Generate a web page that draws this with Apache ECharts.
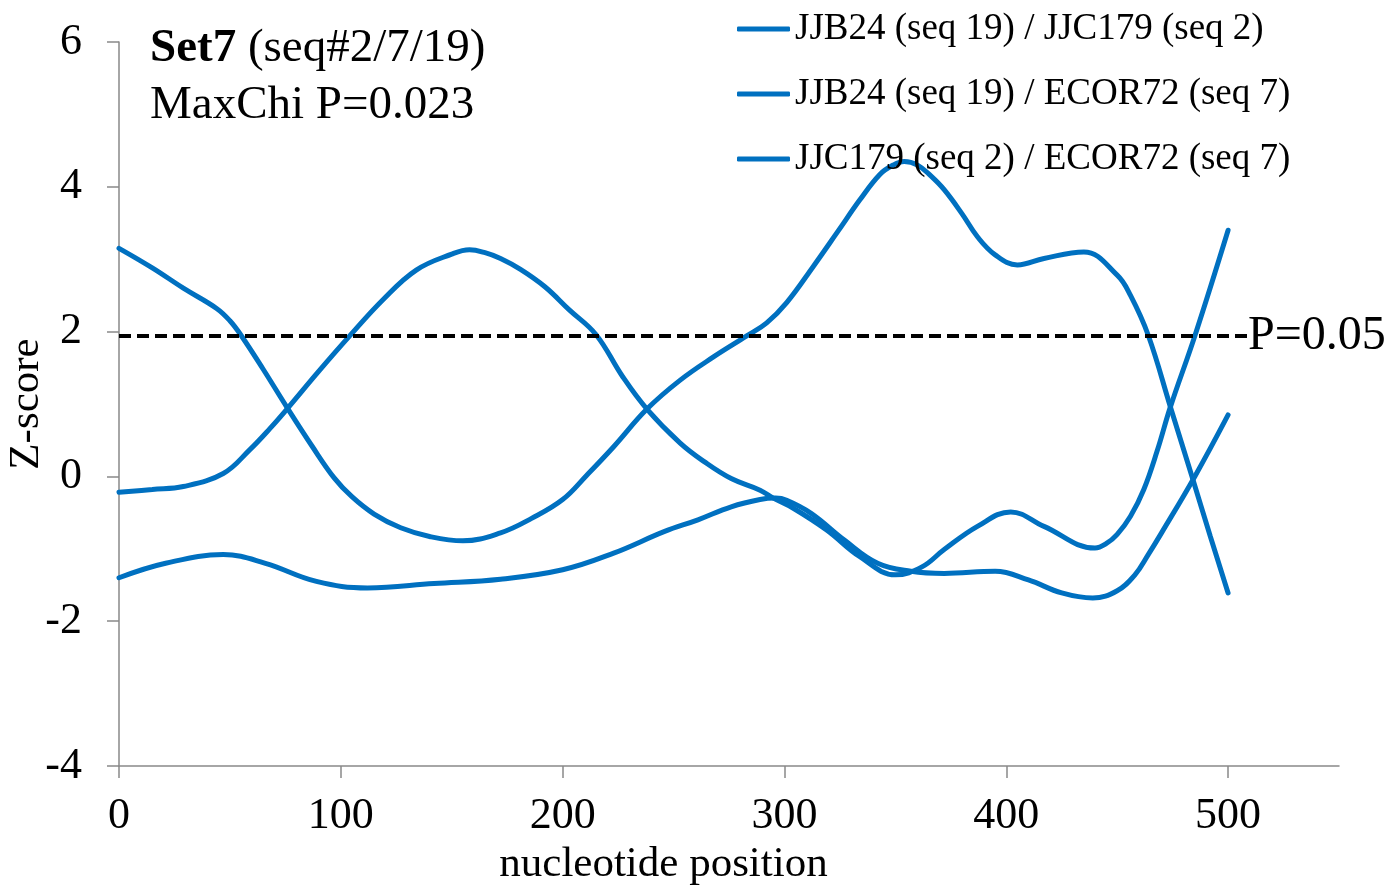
<!DOCTYPE html>
<html>
<head>
<meta charset="utf-8">
<script src="https://cdn.jsdelivr.net/npm/echarts@6/dist/echarts.min.js"></script>
<style>
html,body{margin:0;padding:0;background:#fff;}
#chart{width:1387px;height:885px;}
</style>
</head>
<body>
<div id="chart"></div>
<script>
// ---- data ----
const seriesNames = [
  'JJB24 (seq 19) / JJC179 (seq 2)',
  'JJB24 (seq 19) / ECOR72 (seq 7)',
  'JJC179 (seq 2) / ECOR72 (seq 7)'
];
const curve1X = [0, 15, 29, 44, 50, 55, 65, 76, 87, 97, 105, 115, 127, 140, 155, 172, 186, 200, 211, 223, 238, 253, 268, 283, 292, 301, 313, 324, 334, 343, 349, 354, 360, 366, 372, 380, 387, 395, 405, 417, 435, 450, 456, 464, 474, 484, 492, 500];
const curve1Y = [3.15, 2.88, 2.60, 2.32, 2.15, 1.95, 1.48, 0.94, 0.42, -0.02, -0.28, -0.52, -0.71, -0.83, -0.89, -0.78, -0.58, -0.32, 0.02, 0.41, 0.93, 1.33, 1.65, 1.94, 2.12, 2.40, 2.90, 3.38, 3.82, 4.17, 4.30, 4.35, 4.30, 4.15, 3.96, 3.63, 3.31, 3.06, 2.92, 3.01, 3.10, 2.78, 2.50, 1.95, 0.96, -0.03, -0.83, -1.61];
const curve2X = [0, 15, 29, 47, 59, 68, 76, 90, 104, 119, 134, 150, 158, 165, 172, 181, 192, 203, 215, 227, 238, 253, 264, 276, 289, 295, 304, 319, 334, 350, 362, 372, 387, 402, 417, 440, 445, 450, 456, 462, 468, 474, 485, 500];
const curve2Y = [-0.22, -0.18, -0.14, 0.04, 0.37, 0.66, 0.94, 1.45, 1.94, 2.44, 2.85, 3.07, 3.13, 3.09, 3.01, 2.86, 2.62, 2.30, 1.96, 1.38, 0.93, 0.46, 0.20, -0.03, -0.19, -0.30, -0.44, -0.74, -1.11, -1.36, -1.25, -1.01, -0.69, -0.49, -0.69, -0.99, -0.93, -0.80, -0.55, -0.18, 0.35, 0.96, 1.94, 3.40];
const curve3X = [0, 21, 47, 66, 89, 112, 142, 172, 200, 223, 246, 261, 276, 289, 296, 301, 312, 327, 342, 357, 372, 395, 410, 425, 439, 450, 458, 464, 470, 485, 500];
const curve3Y = [-1.40, -1.20, -1.08, -1.20, -1.45, -1.54, -1.48, -1.42, -1.29, -1.06, -0.76, -0.60, -0.42, -0.32, -0.30, -0.33, -0.51, -0.88, -1.20, -1.31, -1.34, -1.31, -1.43, -1.61, -1.68, -1.58, -1.36, -1.08, -0.78, 0.00, 0.85];
const thresholdX = [0, 509];
const thresholdValue = 1.94;
const thresholdLabel = 'P=0.05';
const xTicks = [0, 100, 200, 300, 400, 500];
const titleLine1Bold = 'Set7';
const titleLine1Rest = ' (seq#2/7/19)';
const titleLine2 = 'MaxChi P=0.023';
const xName = 'nucleotide position';
const yName = 'Z-score';

// ---- build ----
const FONT = "'Liberation Serif','Times New Roman',serif";
const BLUE = '#0070C0';
const zip = (xs, ys) => xs.map((x, i) => [x, ys[i]]);
const curves = [[curve1X, curve1Y], [curve2X, curve2Y], [curve3X, curve3Y]];

const lineSeries = curves.map((c, i) => ({
  name: seriesNames[i],
  type: 'line',
  data: zip(c[0], c[1]),
  smooth: 0.4,
  symbol: 'none',
  showSymbol: false,
  lineStyle: { color: BLUE, width: 5, cap: 'round' },
  itemStyle: { color: BLUE },
  z: 2
}));

lineSeries.push({
  name: thresholdLabel,
  type: 'line',
  data: thresholdX.map(x => [x, thresholdValue]),
  symbol: 'none',
  silent: true,
  lineStyle: { color: '#000', width: 4, type: [12, 6] },
  endLabel: {
    show: true, formatter: thresholdLabel, distance: 0,
    fontSize: 48, fontFamily: FONT, color: '#000'
  },
  z: 3
});

const chart = echarts.init(document.getElementById('chart'), null, { renderer: 'canvas' });
chart.setOption({
  animation: false,
  backgroundColor: '#fff',
  title: {
    text: '{b|' + titleLine1Bold + '}' + titleLine1Rest + '\n' + titleLine2,
    left: 150, top: 20, padding: 0,
    textStyle: {
      fontSize: 47, fontFamily: FONT, color: '#000', fontWeight: 'normal', lineHeight: 57,
      rich: { b: { fontSize: 47, fontFamily: FONT, color: '#000', fontWeight: 'bold', lineHeight: 57 } }
    }
  },
  legend: {
    data: seriesNames,
    orient: 'vertical',
    left: 737, top: 9, padding: 0,
    icon: 'roundRect',
    itemWidth: 53, itemHeight: 5, itemGap: 25,
    textStyle: { fontSize: 37, fontFamily: FONT, color: '#000', lineHeight: 40 }
  },
  grid: { left: 119, right: 48, top: 42, bottom: 119, outerBoundsMode: 'none', containLabel: false },
  xAxis: {
    type: 'value', min: 0, max: 550, interval: 100,
    axisLine: { show: true, onZero: false, lineStyle: { color: '#898989', width: 1.5 } },
    axisTick: { show: true, length: 12, customValues: xTicks, lineStyle: { color: '#898989', width: 1.5 } },
    axisLabel: { customValues: xTicks, fontSize: 44, fontFamily: FONT, color: '#000', margin: 28 },
    splitLine: { show: false },
    name: xName, nameLocation: 'middle', nameGap: 77, nameMoveOverlap: false,
    nameTextStyle: { fontSize: 43, fontFamily: FONT, color: '#000', padding: [0, 131, 0, 0] }
  },
  yAxis: {
    type: 'value', min: -4, max: 6, interval: 2,
    axisLine: { show: true, lineStyle: { color: '#898989', width: 1.5 } },
    axisTick: { show: true, length: 12, lineStyle: { color: '#898989', width: 1.5 } },
    axisLabel: { fontSize: 44, fontFamily: FONT, color: '#000', margin: 37 },
    splitLine: { show: false },
    name: yName, nameLocation: 'middle', nameGap: 71, nameMoveOverlap: false,
    nameTextStyle: { fontSize: 43, fontFamily: FONT, color: '#000' }
  },
  series: lineSeries
});
</script>
</body>
</html>
